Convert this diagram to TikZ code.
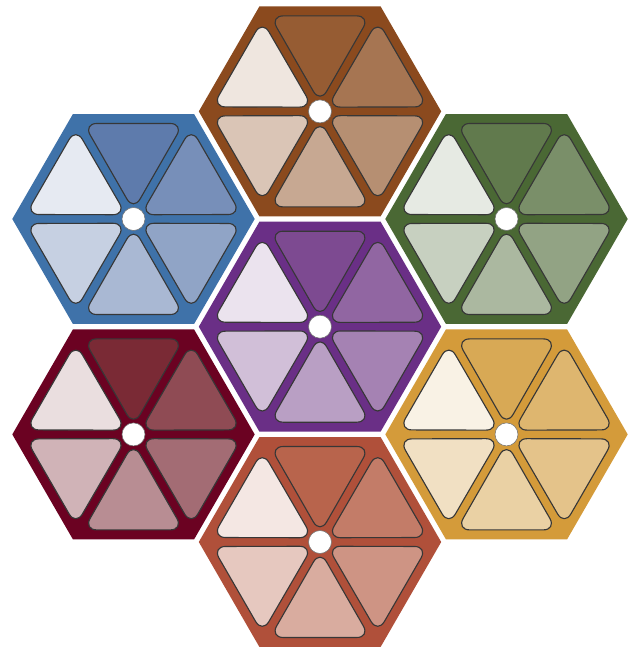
\documentclass[tikz,border=0pt]{standalone}
\usepackage{tikz}
\usepackage{xcolor}

% Hexagon fills and triangle tints
\definecolor{brownhex}{RGB}{139,74,30}
\definecolor{browntint}{RGB}{138,74,28}
\definecolor{bluehex}{RGB}{63,114,169}
\definecolor{bluetint}{RGB}{76,108,163}
\definecolor{greenhex}{RGB}{74,104,52}
\definecolor{greentint}{RGB}{80,107,57}
\definecolor{purplehex}{RGB}{106,47,134}
\definecolor{purpletint}{RGB}{110,54,133}
\definecolor{maroonhex}{RGB}{107,2,34}
\definecolor{maroontint}{RGB}{107,18,30}
\definecolor{goldhex}{RGB}{212,155,58}
\definecolor{goldtint}{RGB}{212,159,66}
\definecolor{rusthex}{RGB}{176,80,58}
\definecolor{rusttint}{RGB}{176,83,56}
\definecolor{edgegray}{RGB}{55,55,55}

\tikzset{
    wedge/.style={draw=edgegray, line width=0.8pt, rounded corners=0.33cm, line join=round},
    hub/.style={fill=white, draw=edgegray!70, line width=0.4pt}
}

% One hexagon cell: centre, fill colour, tint colour
\newcommand{\hexcell}[3]{%
    \begin{scope}[shift={#1}]
        \fill[#2] (0:121.2) -- (60:121.2) -- (120:121.2) -- (180:121.2) -- (240:121.2) -- (300:121.2) -- cycle;
        \foreach \ang/\pct in {90/90, 30/76, -30/62, -90/48, -150/32, 150/14} {
            \draw[wedge, fill=#3!\pct!white, rotate=\ang]
                (95.5,0) -- (95.5,49.94) -- (8.5,0) -- (95.5,-49.94) -- cycle;
        }
        \draw[hub] (0,0) circle (11.5);
    \end{scope}}

\begin{document}
\begin{tikzpicture}[x=0.025cm, y=0.025cm]

    % Canvas
    \fill[white] (0,0) rectangle (632,648);
    \useasboundingbox (0,0) rectangle (632,648);

    % Top row
    \hexcell{(320,536.6)}{brownhex}{browntint}

    % Upper side cells
    \hexcell{(133.5,429)}{bluehex}{bluetint}
    \hexcell{(506.5,429)}{greenhex}{greentint}

    % Centre cell
    \hexcell{(320,321.3)}{purplehex}{purpletint}

    % Lower side cells
    \hexcell{(133.5,213.6)}{maroonhex}{maroontint}
    \hexcell{(506.5,213.6)}{goldhex}{goldtint}

    % Bottom row
    \hexcell{(320,106)}{rusthex}{rusttint}

\end{tikzpicture}
\end{document}
